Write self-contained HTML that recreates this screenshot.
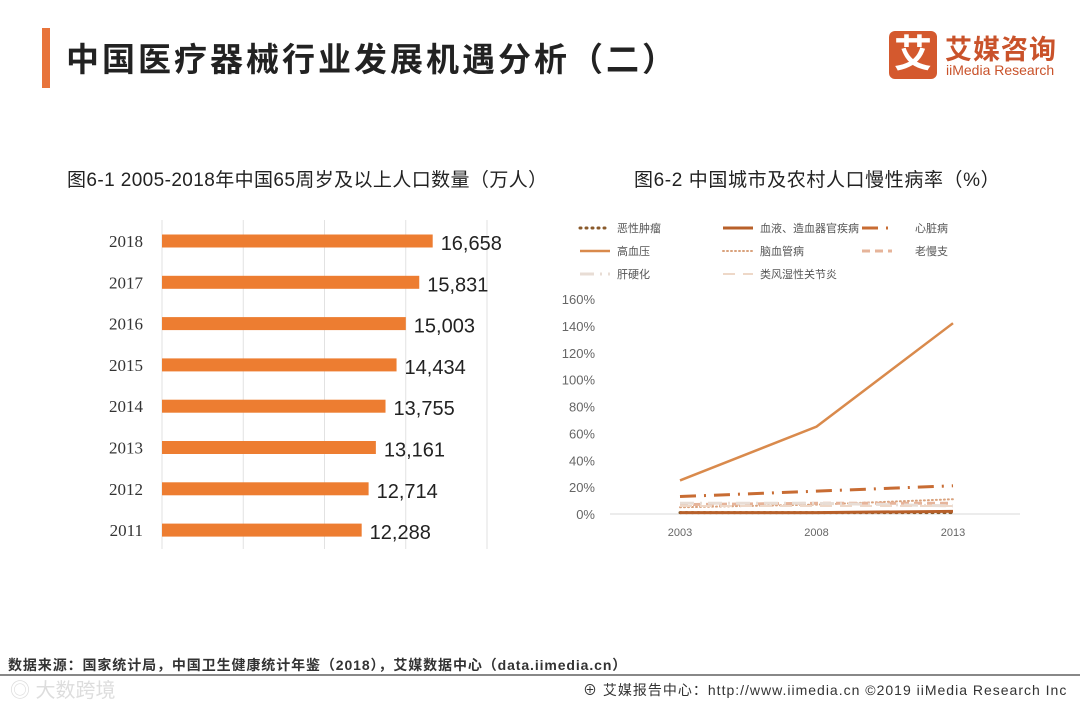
<!DOCTYPE html>
<html><head><meta charset="utf-8">
<style>
body{margin:0;width:1080px;height:702px;background:#fff;overflow:hidden;font-family:"Liberation Sans","Noto Sans CJK SC",sans-serif;position:relative}
.abs{position:absolute}
</style></head><body>
<div class="abs" style="left:42px;top:28px;width:8px;height:60px;background:#e8743b"></div>
<div class="abs" style="left:66px;top:33px;font-size:33px;font-weight:bold;color:#222;white-space:nowrap;letter-spacing:3px">中国医疗器械行业发展机遇分析（二）</div>
<div class="abs" style="left:889px;top:31px;width:180px;height:50px">
  <div class="abs" style="left:0;top:0;width:48px;height:48px;background:#d4592e;border-radius:6px;color:#fff;font-size:38px;font-weight:bold;text-align:center;line-height:48px">艾</div>
  <div class="abs" style="left:56px;top:-3px;font-size:27px;font-weight:bold;color:#c9522a;white-space:nowrap;letter-spacing:1px">艾媒咨询</div>
  <div class="abs" style="left:57px;top:31px;font-size:14px;color:#c9522a;white-space:nowrap">iiMedia Research</div>
</div>
<div class="abs" style="left:67px;top:165px;font-size:19px;color:#222;white-space:nowrap;letter-spacing:0.4px">图6-1 2005-2018年中国65周岁及以上人口数量（万人）</div>
<div class="abs" style="left:634px;top:165px;font-size:19px;color:#222;white-space:nowrap;letter-spacing:0.6px">图6-2 中国城市及农村人口慢性病率（%）</div>

<svg class="abs" style="left:0;top:0" width="1080" height="702">
<g id="bar"></g>
<g id="line"></g>
</svg>

<div class="abs" style="left:8px;top:655px;font-size:14px;color:#333;white-space:nowrap;font-weight:bold;letter-spacing:0.9px">数据来源：国家统计局，中国卫生健康统计年鉴（2018），艾媒数据中心（data.iimedia.cn）</div>
<div class="abs" style="left:0;top:674px;width:1080px;height:2px;background:#888"></div>
<div class="abs" style="left:10px;top:674px;font-size:20px;color:#ddd;white-space:nowrap">◎ 大数跨境</div>
<div class="abs" style="left:583px;top:680px;font-size:14px;color:#333;white-space:nowrap;letter-spacing:1px">⊕ 艾媒报告中心：http://www.iimedia.cn ©2019 iiMedia Research Inc</div>

<script>
const NS='http://www.w3.org/2000/svg';
function mk(p,t,a){const e=document.createElementNS(NS,t);for(const k in a)e.setAttribute(k,a[k]);p.appendChild(e);return e;}
// Bar chart data
const barYears=['2018','2017','2016','2015','2014','2013','2012','2011'];
const barValues=[16658,15831,15003,14434,13755,13161,12714,12288];
const barGridTicks=[0,5000,10000,15000,20000];
const bx=v=>162+v*(325/20000);
const by=i=>241+i*41.3;
const bg=document.getElementById('bar');
barGridTicks.forEach(t=>{const l=mk(bg,'line',{x1:bx(t),x2:bx(t),y1:220,y2:549,stroke:'#e2e2e2','stroke-width':1});

});
barYears.forEach((y,i)=>{
 const r=mk(bg,'rect',{x:bx(0),y:by(i)-6.5,width:bx(barValues[i])-bx(0),height:13,fill:'#ed7d31'});
 
 
 const t=mk(bg,'text',{x:143,y:by(i)+6,'text-anchor':'end','font-size':17,fill:'#333','font-family':'Liberation Serif, serif'});t.textContent=y;
 
 
 const v=mk(bg,'text',{x:bx(barValues[i])+8,y:by(i)+9,'font-size':20,fill:'#222'});v.textContent=barValues[i].toLocaleString('en-US');
 
 
});
// Line chart data
const lineYears=['2003','2008','2013'];
const yTicks=[0,20,40,60,80,100,120,140,160];
const sHypertension=[25,65,142];
const sHeart=[13,17,21];
const sCerebro=[5,7,11];
const sBronchitis=[7,8,8];
const sCirrhosis=[8,8,6];
const sRheuma=[6,6,6];
const sCancer=[1,1,1];
const sBlood=[1,1,2];
const series=[
 {n:'恶性肿瘤',d:sCancer,c:'#8a5a2b',w:3,dash:'1 5',cap:'round'},
 {n:'血液、造血器官疾病',d:sBlood,c:'#b8602a',w:3,dash:''},
 {n:'心脏病',d:sHeart,c:'#c86c33',w:3,dash:'16 8 2 8'},
 {n:'高血压',d:sHypertension,c:'#d98a4c',w:2.5,dash:''},
 {n:'脑血管病',d:sCerebro,c:'#d9a27d',w:2,dash:'1 3',cap:'round'},
 {n:'老慢支',d:sBronchitis,c:'#e6b49a',w:3,dash:'8 5'},
 {n:'肝硬化',d:sCirrhosis,c:'#e8ddd5',w:3,dash:'14 6 2 6'},
 {n:'类风湿性关节炎',d:sRheuma,c:'#eed8c8',w:2,dash:'12 8'}
];
const lx=i=>680+i*136.5;
const ly=v=>514-v*(215/160);
const lg=document.getElementById('line');
const ax=mk(lg,'line',{x1:610,x2:1020,y1:514,y2:514,stroke:'#d8d8d8','stroke-width':1});


yTicks.forEach(t=>{const e=mk(lg,'text',{x:595,y:ly(t)+5,'text-anchor':'end','font-size':13,fill:'#666'});e.textContent=t+'%';
 
 });
lineYears.forEach((y,i)=>{const e=mk(lg,'text',{x:lx(i),y:536,'text-anchor':'middle','font-size':11,fill:'#666'});e.textContent=y;
 
 });
const legPos=[[580,228],[723,228],[862,228],[580,251],[723,251],[862,251],[580,274],[723,274]];
series.forEach((s,k)=>{
 const p=mk(lg,'polyline',{points:s.d.map((v,i)=>lx(i)+','+ly(v)).join(' '),fill:'none',stroke:s.c,'stroke-width':s.w,'stroke-dasharray':s.dash,'stroke-linecap':s.cap||'butt'});
 
 
 const [x,y]=legPos[k];
 const ll=mk(lg,'line',{x1:x,x2:x+30,y1:y,y2:y,stroke:s.c,'stroke-width':s.w,'stroke-dasharray':s.dash,'stroke-linecap':s.cap||'butt'});
 
 
 const tx=mk(lg,'text',{x:x+(k==2||k==5?53:37),y:y+4,'font-size':11,fill:'#555'});tx.textContent=s.n;
 
 
});
</script>
</body></html>
